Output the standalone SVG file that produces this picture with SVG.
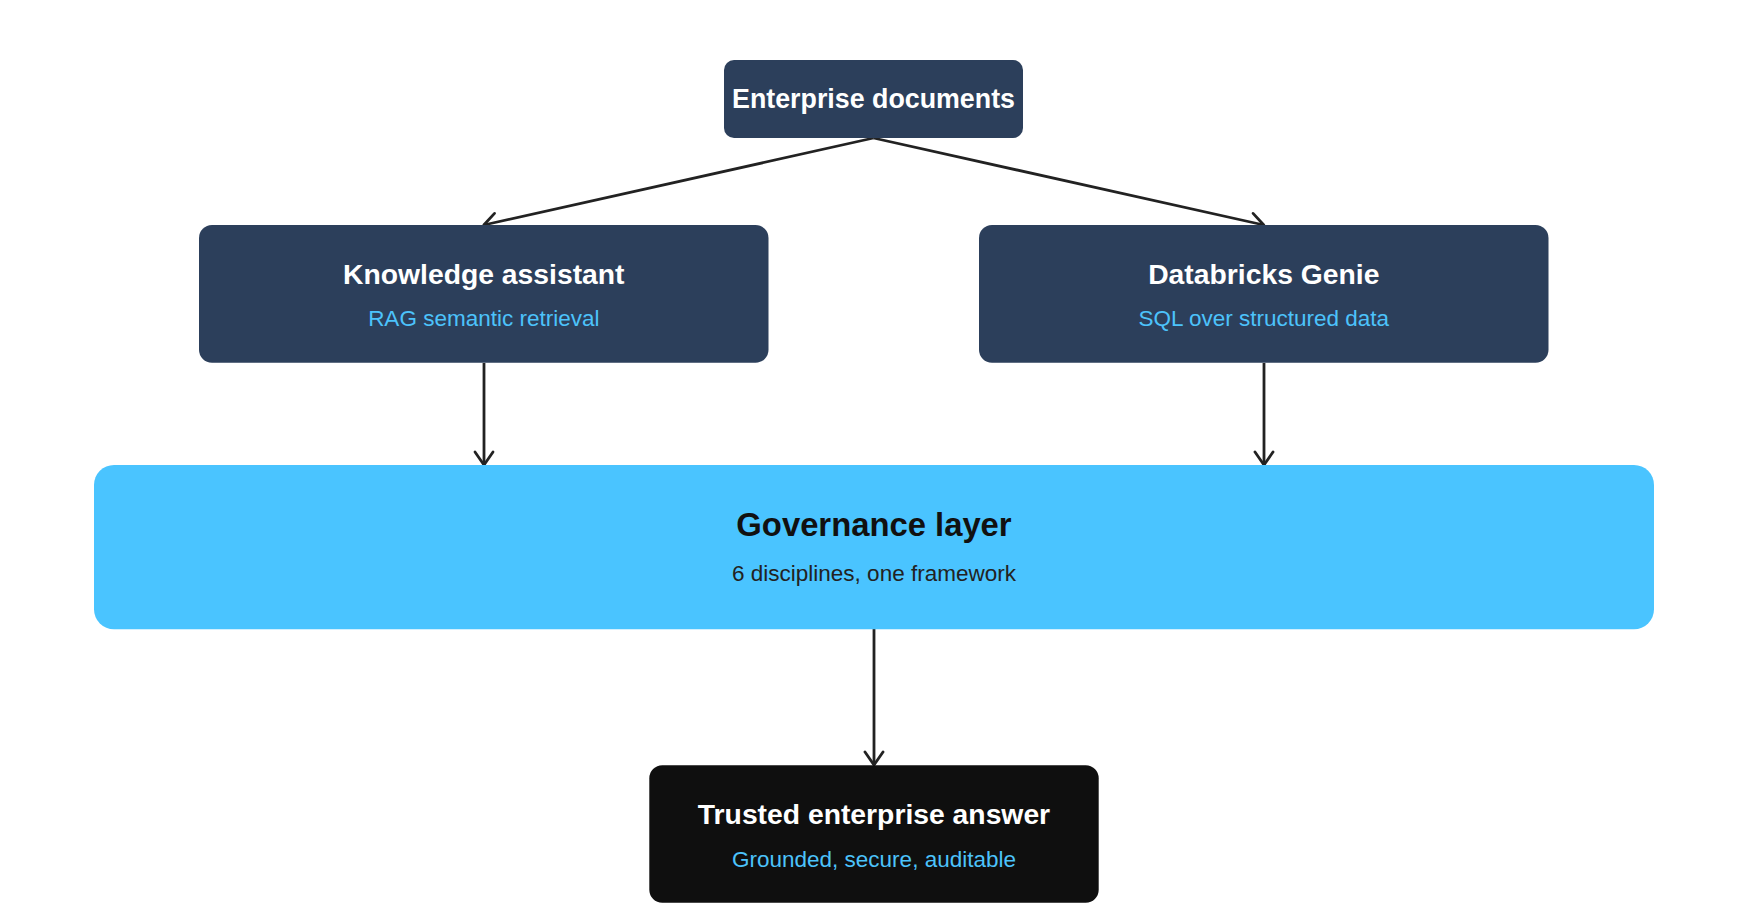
<svg xmlns="http://www.w3.org/2000/svg" width="1761" height="919" viewBox="0 0 1761 919">
<style>
.title{font-family:"Liberation Sans",Arial,sans-serif;font-weight:bold;text-anchor:middle;fill:#ffffff}
.sub{font-family:"Liberation Sans",Arial,sans-serif;text-anchor:middle;fill:#4cc3fb;font-size:22.5px}
.navy{fill:#2c3f5b}
.edge{stroke:#222222;stroke-width:2.8;fill:none}
</style>
<defs>
<marker id="arr" markerUnits="userSpaceOnUse" viewBox="-16 -12 20 24" refX="0" refY="0" markerWidth="20" markerHeight="24" orient="auto" overflow="visible">
<path d="M-13,-9 L0,0 L-13,9" fill="none" stroke="#222222" stroke-width="2.8" stroke-linecap="round" stroke-linejoin="round"/>
</marker>
</defs>
<rect width="1761" height="919" fill="#ffffff"/>
<g id="connectors">
<line class="edge" x1="873.5" y1="138" x2="483.8" y2="225" marker-end="url(#arr)"/>
<line class="edge" x1="873.5" y1="138" x2="1263.8" y2="225" marker-end="url(#arr)"/>
<line class="edge" x1="484" y1="363" x2="484" y2="465" marker-end="url(#arr)"/>
<line class="edge" x1="1264" y1="363" x2="1264" y2="465" marker-end="url(#arr)"/>
<line class="edge" x1="874" y1="629" x2="874" y2="765" marker-end="url(#arr)"/>
</g>
<g id="enterprise-documents">
<rect class="navy" x="724" y="60" width="299" height="78" rx="10"/>
<text class="title" x="873.5" y="108" font-size="26.8">Enterprise documents</text>
</g>
<g id="knowledge-assistant">
<rect class="navy" x="199" y="225" width="569.5" height="137.7" rx="13"/>
<text class="title" x="483.8" y="284" font-size="28.3">Knowledge assistant</text>
<text class="sub" x="483.8" y="326">RAG semantic retrieval</text>
</g>
<g id="databricks-genie">
<rect class="navy" x="979" y="225" width="569.5" height="137.7" rx="13"/>
<text class="title" x="1263.8" y="284" font-size="28.3">Databricks Genie</text>
<text class="sub" x="1263.8" y="326">SQL over structured data</text>
</g>
<g id="governance-layer">
<rect x="94" y="465" width="1560" height="164.3" rx="20" fill="#4ac4ff"/>
<text class="title" x="874" y="536" font-size="32.8" style="fill:#111111">Governance layer</text>
<text class="sub" x="874" y="581" style="fill:#222222">6 disciplines, one framework</text>
</g>
<g id="trusted-answer">
<rect x="649.3" y="765.3" width="449.4" height="137.4" rx="13" fill="#0f0f0f"/>
<text class="title" x="874" y="824.3" font-size="28.3">Trusted enterprise answer</text>
<text class="sub" x="874" y="866.7">Grounded, secure, auditable</text>
</g>
</svg>
